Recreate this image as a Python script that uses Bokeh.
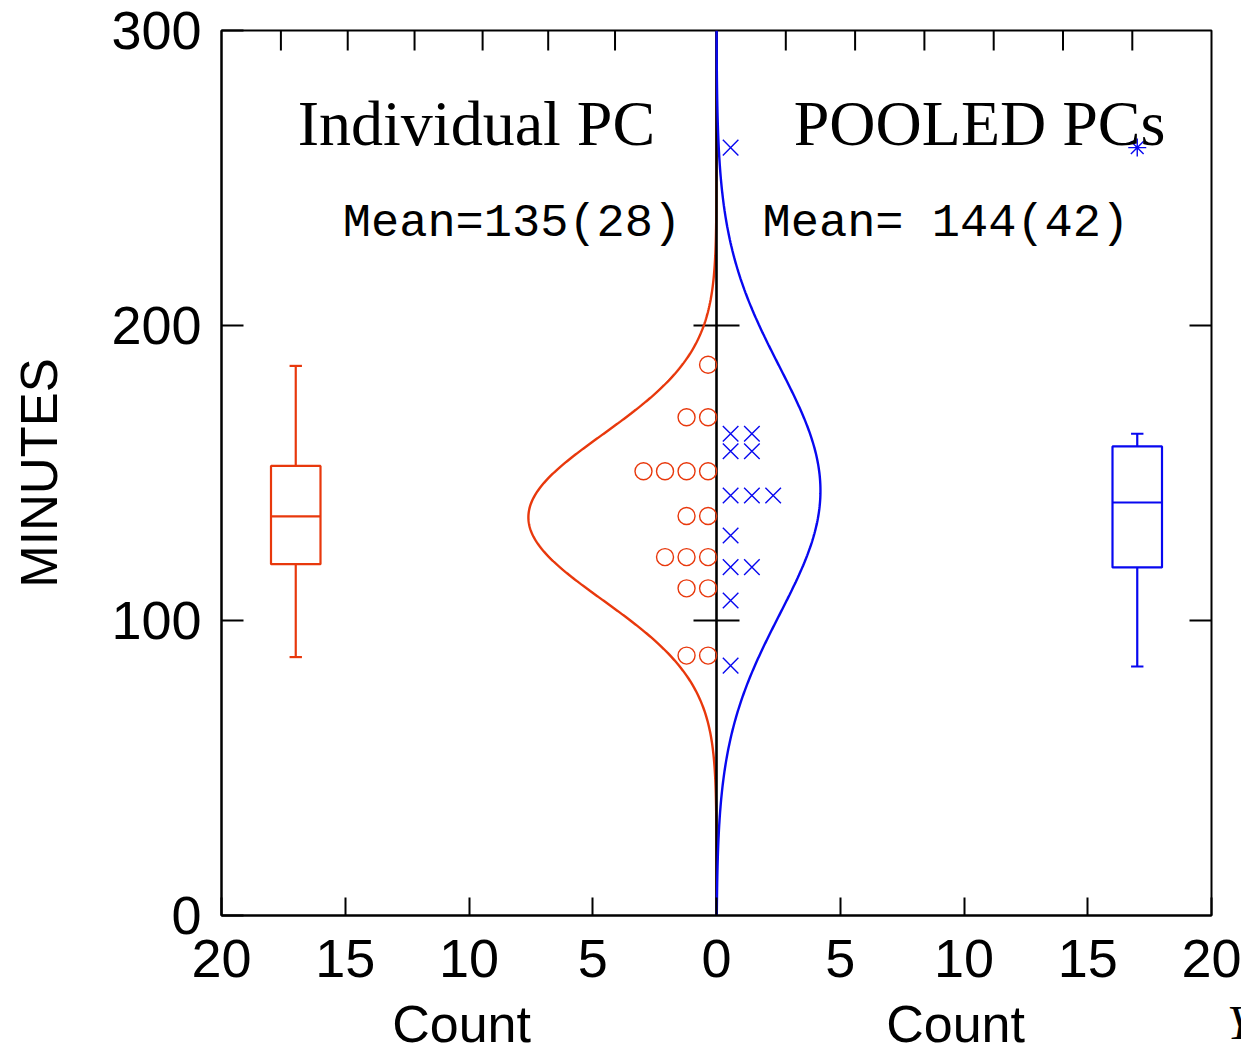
import numpy as np
from bokeh.plotting import figure
from bokeh.layouts import column
from bokeh.models import Range1d, FixedTicker, CustomJSTickFormatter, Label
from bokeh.embed import file_html
from bokeh.resources import INLINE

# ---------------- data ----------------
red_values = [186.7, 168.9, 168.9, 150.6, 150.6, 150.6, 150.6, 135.4, 135.4,
              121.5, 121.5, 121.5, 110.9, 110.9, 88.1, 88.1]
blue_values = [260.3, 163.3, 163.3, 157.4, 157.4, 142.4, 142.4, 142.4, 128.8,
               118.1, 118.1, 106.8, 84.7]
red_mean, red_sd, red_peak = 135, 28, 7.6
blue_mean, blue_sd, blue_peak = 144, 42, 4.2
red_box = [87.6, 119.1, 135.3, 152.4, 186.3]     # low, q1, median, q3, high
blue_box = [84.4, 118.0, 140.0, 159.0, 163.3]
blue_outliers = [260.3]
red_box_x, blue_box_x = -17, 17
x_ticks = [-20, -15, -10, -5, 0, 5, 10, 15, 20]
y_ticks = [0, 100, 200, 300]
top_ticks = [-17.6, -14.9, -12.2, -9.45, -6.8, -4.1, 2.8, 5.6, 8.4, 11.2, 14.0, 16.8]
side_ticks = [100, 200]

RED = "#e8380c"
BLUE = "#0808f0"

# ---------------- layout geometry ----------------
W, H_MAIN, H_STRIP = 1241, 995, 52
B_LEFT, B_RIGHT, B_TOP, B_BOTTOM = 221, 30, 30, 80
FW = W - B_LEFT - B_RIGHT          # frame width in px
FH = H_MAIN - B_TOP - B_BOTTOM     # frame height in px
X0, X1, Y0, Y1 = -20, 20, 0, 300
px_x = (X1 - X0) / FW
px_y = (Y1 - Y0) / FH

p = figure(width=W, height=H_MAIN, x_range=Range1d(X0, X1), y_range=Range1d(Y0, Y1),
           output_backend="svg", toolbar_location=None,
           min_border_left=B_LEFT, min_border_right=B_RIGHT,
           min_border_top=B_TOP, min_border_bottom=B_BOTTOM)
p.frame_align = False
p.xgrid.visible = False
p.ygrid.visible = False
p.outline_line_color = "black"
p.outline_line_width = 2

xa = p.xaxis[0]
xa.ticker = FixedTicker(ticks=x_ticks)
xa.formatter = CustomJSTickFormatter(code="return Math.abs(tick).toString();")
ya = p.yaxis[0]
ya.ticker = FixedTicker(ticks=y_ticks)
for ax, tin in ((xa, 18), (ya, 22)):
    ax.major_tick_in = tin
    ax.major_tick_out = 0
    ax.minor_tick_line_color = None
    ax.axis_line_width = 2
    ax.major_tick_line_width = 2
    ax.major_label_text_font = "Liberation Sans"
    ax.major_label_text_font_size = "54px"
    ax.major_label_text_color = "black"
xa.major_label_standoff = 24
ya.major_label_standoff = 20
ya.axis_label = "MINUTES"
ya.axis_label_text_font = "Liberation Sans"
ya.axis_label_text_font_size = "51px"
ya.axis_label_text_font_style = "normal"
ya.axis_label_text_color = "black"
ya.axis_label_standoff = 40

# inward ticks on top border and right border, and the inner panel border at x=0
tl_top = 20 * px_y
p.segment(x0=top_ticks, y0=[Y1] * len(top_ticks), x1=top_ticks,
          y1=[Y1 - tl_top] * len(top_ticks), line_color="black", line_width=2)
tl_side = 22 * px_x
p.segment(x0=[X1] * len(side_ticks), y0=side_ticks, x1=[X1 - tl_side] * len(side_ticks),
          y1=side_ticks, line_color="black", line_width=2)
half = 23 * px_x
p.segment(x0=[-half] * len(side_ticks), y0=side_ticks, x1=[half] * len(side_ticks),
          y1=side_ticks, line_color="black", line_width=2)

# ---------------- normal curves ----------------
yy = np.linspace(Y0, Y1, 901)
red_curve = -red_peak * np.exp(-0.5 * ((yy - red_mean) / red_sd) ** 2)
blue_curve = blue_peak * np.exp(-0.5 * ((yy - blue_mean) / blue_sd) ** 2)
p.line(red_curve, yy, line_color=RED, line_width=2.4)
p.line([0, 0], [Y0, Y1], line_color="black", line_width=2.6)
p.line(blue_curve, yy, line_color=BLUE, line_width=2.4)

# ---------------- stacked dot plots ----------------
def stack(values, start, step, sign):
    xs, seen = [], {}
    for v in values:
        i = seen.get(v, 0)
        seen[v] = i + 1
        xs.append(sign * (start + step * i))
    return xs

p.scatter(stack(red_values, 0.34, 0.87, -1), red_values, marker="circle", size=17,
          fill_color=None, line_color=RED, line_width=1.4)
p.scatter(stack(blue_values, 0.57, 0.86, 1), blue_values, marker="x", size=22,
          line_color=BLUE, line_width=1.4)

# ---------------- box plots ----------------
def boxplot(x, b, color):
    low, q1, med, q3, high = b
    p.quad(left=[x - 1], right=[x + 1], bottom=[q1], top=[q3], fill_color=None,
           line_color=color, line_width=2.2)
    p.segment(x0=[x - 1, x, x, x - 0.25, x - 0.25], y0=[med, q3, q1, high, low],
              x1=[x + 1, x, x, x + 0.25, x + 0.25], y1=[med, high, low, high, low],
              line_color=color, line_width=2.2)

boxplot(red_box_x, red_box, RED)
boxplot(blue_box_x, blue_box, BLUE)
p.scatter([blue_box_x] * len(blue_outliers), blue_outliers, marker="asterisk", size=18,
          line_color=BLUE, line_width=1.4)

# ---------------- texts in the plot ----------------
p.add_layout(Label(x=-9.7, y=268.6, text="Individual PC", text_font="Liberation Serif",
                   text_font_size="64px", text_align="center", text_baseline="middle",
                   text_color="black"))
p.add_layout(Label(x=10.63, y=268.6, text="POOLED PCs", text_font="Liberation Serif",
                   text_font_size="64px", text_align="center", text_baseline="middle",
                   text_color="black"))
p.add_layout(Label(x=-15.1, y=234.5, text="Mean=135(28)", text_font="Liberation Mono",
                   text_font_size="47px", text_align="left", text_baseline="middle",
                   text_color="black"))
p.add_layout(Label(x=1.86, y=234.5, text="Mean= 144(42)", text_font="Liberation Mono",
                   text_font_size="47px", text_align="left", text_baseline="middle",
                   text_color="black"))

# ---------------- bottom strip: x-axis titles ----------------
s = figure(width=W, height=H_STRIP, output_backend="svg", toolbar_location=None,
           x_range=Range1d(X0 - B_LEFT * px_x, X1 + B_RIGHT * px_x), y_range=Range1d(0, H_STRIP),
           x_axis_type=None, y_axis_type=None, min_border=0)
s.frame_align = False
s.outline_line_color = None
s.xgrid.visible = False
s.ygrid.visible = False
for cx in (-10.3, 9.66):
    s.add_layout(Label(x=cx, y=24, text="Count", text_font="Liberation Sans",
                       text_font_size="52px", text_align="center", text_baseline="middle",
                       text_color="black"))
s.add_layout(Label(x=20.63, y=25, text="Y", text_font="Liberation Serif",
                   text_font_style="italic", text_font_size="48px", text_align="left",
                   text_baseline="middle", text_color="black"))

open("out.html", "w").write(file_html(column(p, s, spacing=0), INLINE))
